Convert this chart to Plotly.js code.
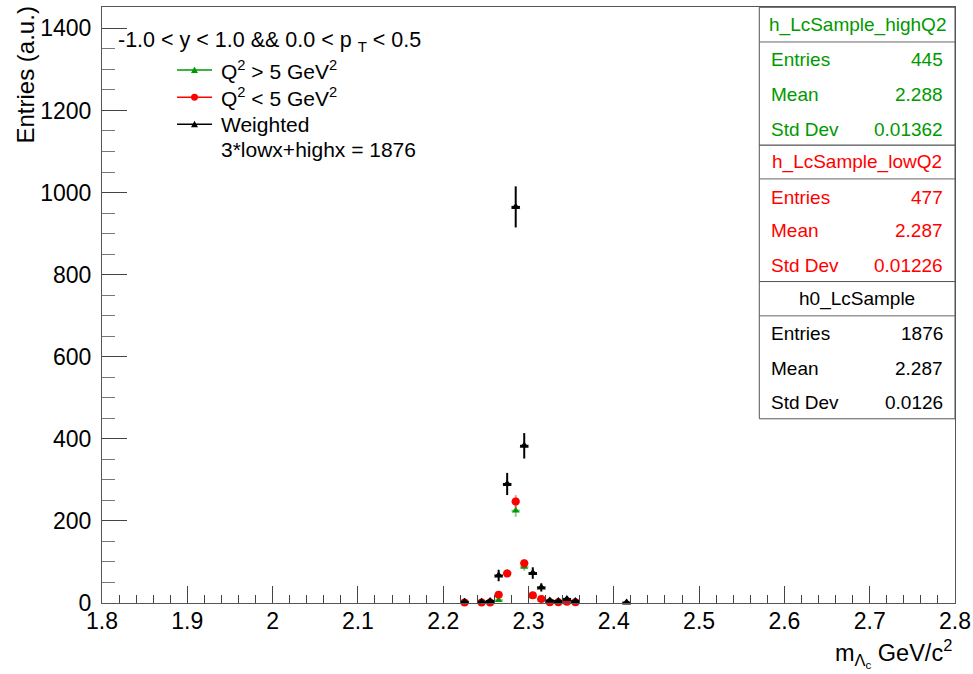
<!DOCTYPE html>
<html>
<head>
<meta charset="utf-8">
<script src="https://cdn.plot.ly/plotly-3.0.1.min.js"></script>
<style>html,body{margin:0;padding:0;background:#fff;}#chart{width:973px;height:674px;}</style>
</head>
<body>
<div id="chart"></div>
<script>
// ---- data ----
const binCenters = [2.225, 2.245, 2.255, 2.265, 2.275, 2.285, 2.295, 2.305, 2.315, 2.325, 2.335, 2.345, 2.355, 2.415];
const highQ2     = [null, null, 2, 7, 74, 225, 88, 16, 8, 2, 2, 1, 2, 1];
const highQ2Err  = [0, 0, 1.4, 2.6, 8.6, 15, 9.4, 4, 2.8, 1.4, 1.4, 1, 1.4, 1];
const lowQ2      = [1, 1, 1, 20, 72, 247, 97, 19, 10, 2, 2, 3, 2, null];
const lowQ2Err   = [1, 1, 1, 4.5, 8.5, 15.7, 9.8, 4.4, 3.2, 1.4, 1.4, 1.7, 1.4, 0];
const weighted   = [3, 3, 5, 67, 290, 965, 383, 73, 38, 6, 5, 10, 5, 1];
const weightedErr= [3, 3, 3.3, 14, 27, 50, 31, 14, 10, 3.5, 3.5, 5.3, 3.5, 1];
const halfBin    = 0.005;

const xTickVals = [1.8, 1.9, 2.0, 2.1, 2.2, 2.3, 2.4, 2.5, 2.6, 2.7, 2.8];
const yTickVals = [0, 200, 400, 600, 800, 1000, 1200, 1400];

const statNames   = ["h_LcSample_highQ2", "h_LcSample_lowQ2", "h0_LcSample"];
const statEntries = ["445", "477", "1876"];
const statMeans   = ["2.288", "2.287", "2.287"];
const statStd     = ["0.01362", "0.01226", "0.0126"];
const statLabels  = ["Entries", "Mean", "Std Dev"];

const legendTexts = ["Q<sup>2</sup> &gt; 5 GeV<sup>2</sup>", "Q<sup>2</sup> &lt; 5 GeV<sup>2</sup>", "Weighted"];
const legendHeader = "-1.0 &lt; y &lt; 1.0 &amp;&amp; 0.0 &lt; p <sub>T</sub> &lt; 0.5";
const legendFooter = "3*lowx+highx = 1876";

// ---- styles ----
const GREEN = "#009900", RED = "#ff0000", BLACK = "#000000";
const FONT = "Liberation Sans, Arial, sans-serif";
const W = 973, H = 674;
const L = 102, R = 955, T = 7, B = 603.3;
const px = v => (v - L) / (R - L);
const py = v => (B - v) / (B - T);

function hist(y, err, color, errColor, symbol, size) {
  return {
    x: binCenters, y: y, type: "scatter", mode: "markers",
    marker: {color: color, symbol: symbol, size: size, line: {width: 0}},
    error_y: {type: "data", array: err, visible: true, thickness: 2, width: 0, color: errColor},
    error_x: {type: "data", array: binCenters.map(() => halfBin), visible: true, thickness: 2, width: 0, color: errColor},
    showlegend: false, hoverinfo: "x+y", cliponaxis: false
  };
}

const data = [
  hist(highQ2, highQ2Err, GREEN, "rgba(0,153,0,0.45)", "triangle-up", 7),
  hist(lowQ2, lowQ2Err, RED, "rgba(255,0,0,0.45)", "circle", 8),
  hist(weighted, weightedErr, BLACK, BLACK, "triangle-up", 8)
];

const annotations = [];
const shapes = [];

// legend
annotations.push({xref: "paper", yref: "paper", x: px(116), y: py(42), xanchor: "left", yanchor: "middle",
  text: legendHeader, showarrow: false, font: {family: FONT, size: 21.5, color: "#000"}});
const legRows = [70, 97.3, 124.3];
const legColors = [GREEN, RED, BLACK];
legendTexts.forEach((t, i) => {
  annotations.push({xref: "paper", yref: "paper", x: px(219), y: py(legRows[i]), xanchor: "left", yanchor: "middle",
    text: t, showarrow: false, font: {family: FONT, size: 21, color: "#000"}});
  shapes.push({type: "line", xref: "paper", yref: "paper", x0: px(177), x1: px(212), y0: py(legRows[i]), y1: py(legRows[i]),
    line: {color: legColors[i], width: 1.5}});
  const cx = 194.5, cy = legRows[i];
  if (i === 1) {
    shapes.push({type: "circle", xref: "paper", yref: "paper", x0: px(cx - 3.5), x1: px(cx + 3.5), y0: py(cy - 3.5), y1: py(cy + 3.5),
      fillcolor: legColors[i], line: {width: 0}});
  } else {
    shapes.push({type: "path", xref: "paper", yref: "paper",
      path: `M ${px(cx - 3.5)} ${py(cy + 3)} L ${px(cx + 3.5)} ${py(cy + 3)} L ${px(cx)} ${py(cy - 3.5)} Z`,
      fillcolor: legColors[i], line: {width: 0}});
  }
});
annotations.push({xref: "paper", yref: "paper", x: px(219), y: py(150), xanchor: "left", yanchor: "middle",
  text: legendFooter, showarrow: false, font: {family: FONT, size: 21, color: "#000"}});

// stats boxes
const boxTop = [7.3, 145.3, 281.7];
const boxSep = [42, 179, 316];
const boxBot = [145.3, 281.7, 419];
const titleY = [25, 161.7, 299];
const rowY = [[60, 95, 129.3], [197.3, 230.7, 265.7], [333.3, 368.3, 402.7]];
const boxColors = [GREEN, RED, BLACK];
const BL = 759.3, BR = 955;
for (let b = 0; b < 3; b++) {
  shapes.push({type: "rect", xref: "paper", yref: "paper", x0: px(BL), x1: px(BR), y0: py(boxTop[b]), y1: py(boxBot[b]),
    fillcolor: "#ffffff", line: {color: "#555", width: 1}, layer: "above"});
  shapes.push({type: "line", xref: "paper", yref: "paper", x0: px(BL), x1: px(BR), y0: py(boxSep[b]), y1: py(boxSep[b]),
    line: {color: "#666", width: 1}});
  annotations.push({xref: "paper", yref: "paper", x: px((BL + BR) / 2), y: py(titleY[b]), xanchor: "center", yanchor: "middle",
    text: statNames[b], showarrow: false, font: {family: FONT, size: 19, color: boxColors[b]}});
  const vals = [statEntries[b], statMeans[b], statStd[b]];
  for (let r = 0; r < 3; r++) {
    annotations.push({xref: "paper", yref: "paper", x: px(769), y: py(rowY[b][r]), xanchor: "left", yanchor: "middle",
      text: statLabels[r], showarrow: false, font: {family: FONT, size: 19, color: boxColors[b]}});
    annotations.push({xref: "paper", yref: "paper", x: px(945), y: py(rowY[b][r]), xanchor: "right", yanchor: "middle",
      text: vals[r], showarrow: false, font: {family: FONT, size: 19, color: boxColors[b]}});
  }
}

// axis titles
annotations.push({xref: "paper", yref: "paper", x: px(954), y: py(654), xanchor: "right", yanchor: "middle",
  text: "m<sub>Λ<sub>c</sub></sub> GeV/c<sup>2</sup>", showarrow: false, font: {family: FONT, size: 23.5, color: "#000"}});
annotations.push({xref: "paper", yref: "paper", x: px(26), y: py(5), xanchor: "center", yanchor: "top", textangle: -90,
  text: "Entries (a.u.)", showarrow: false, font: {family: FONT, size: 24, color: "#000"}});

const layout = {
  width: W, height: H,
  margin: {l: L, r: W - R, t: T, b: H - B, pad: 0},
  paper_bgcolor: "#fff", plot_bgcolor: "#fff",
  font: {family: FONT, size: 23, color: "#000"},
  showlegend: false,
  xaxis: {
    range: [1.8, 2.8], tickmode: "array", tickvals: xTickVals, ticktext: xTickVals.map(v => String(v)),
    ticks: "inside", ticklen: 17, tickwidth: 1, tickcolor: "#444",
    minor: {ticks: "inside", dtick: 0.02, tick0: 1.8, ticklen: 8, tickwidth: 1, tickcolor: "#444", showgrid: false},
    showgrid: false, zeroline: false, showline: true, linecolor: "#555", linewidth: 1, mirror: true,
    tickfont: {family: FONT, size: 23, color: "#000"}, ticklabelstandoff: -3
  },
  yaxis: {
    range: [0, 1452], tickmode: "array", tickvals: yTickVals,
    ticks: "inside", ticklen: 25, tickwidth: 1, tickcolor: "#444",
    minor: {ticks: "inside", dtick: 50, tick0: 0, ticklen: 13, tickwidth: 1, tickcolor: "#777", showgrid: false},
    showgrid: false, zeroline: false, showline: true, linecolor: "#555", linewidth: 1, mirror: true,
    tickfont: {family: FONT, size: 23, color: "#000"}, ticklabelstandoff: 5
  },
  annotations: annotations,
  shapes: shapes
};

Plotly.newPlot("chart", data, layout, {displayModeBar: false, staticPlot: true});
</script>
</body>
</html>
